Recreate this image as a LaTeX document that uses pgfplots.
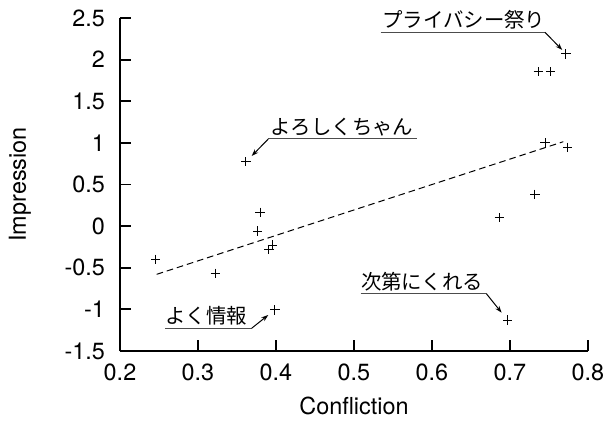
\documentclass[border=0pt]{standalone}
\usepackage{fontspec}
\setmainfont{TeX Gyre Heros}
\newfontfamily\jp{Noto Sans CJK JP}
\usepackage{pgfplots}
\pgfplotsset{compat=1.18}
\usetikzlibrary{arrows.meta}
\begin{document}
\begin{tikzpicture}
\begin{axis}[
  scale only axis, width=234bp, height=166.5bp,
  xmin=0.2, xmax=0.8, ymin=-1.5, ymax=2.5,
  clip=false,
  axis x line*=bottom, axis y line*=left,
  axis line style={-, line width=0.9bp},
  tick align=inside, major tick length=5.3bp,
  tick style={line width=0.9bp, black},
  xtick={0.2,0.3,0.4,0.5,0.6,0.7,0.8},
  xticklabels={0.2,0.3,0.4,0.5,0.6,0.7,0.8},
  ytick={-1.5,-1,-0.5,0,0.5,1,1.5,2,2.5},
  yticklabels={-1.5,-1,-0.5,0,0.5,1,1.5,2,2.5},
  ticklabel style={font=\fontsize{11.75}{14}\selectfont},
  yticklabel style={xshift=-4bp},
  xticklabel style={yshift=-3bp},
  xlabel={Confliction}, ylabel={Impression},
  label style={font=\fontsize{11.75}{14}\selectfont},
  xlabel style={at={(axis description cs:0.5,0)}, anchor=center, yshift=-27.5bp},
  ylabel style={at={(axis description cs:0,0.5)}, anchor=center, yshift=50bp},
]
\addplot[only marks, mark=+, mark size=2.3bp, mark options={line width=0.5bp, black}] coordinates {
(0.246,-0.399) (0.322,-0.567) (0.3615,0.774) (0.3795,0.166) (0.3765,-0.059)
(0.3953,-0.227) (0.391,-0.279) (0.3987,-1.007) (0.6863,0.101) (0.732,0.382)
(0.7449,1.002) (0.774,0.947) (0.697,-1.128) (0.7718,2.068) (0.7363,1.855) (0.752,1.855)
};
\addplot[black, line width=0.5bp, dash pattern=on 3.3bp off 2bp] coordinates {(0.247,-0.579) (0.7683,1.014)};

% annotations
\draw[line width=0.5bp, black!70] (axis cs:0.5342,2.328) -- (axis cs:0.7449,2.328);
\draw[-{Stealth[length=3.5bp,width=2.4bp]}, line width=0.5bp] (axis cs:0.7449,2.328) -- (axis cs:0.767,2.116);
\node[anchor=base west, inner sep=0, yshift=2.2bp, font=\jp\fontsize{10.25}{12}\selectfont] at (axis cs:0.5359,2.328) {プライバシー祭り};

\draw[line width=0.5bp, black!70] (axis cs:0.3901,1.0466) -- (axis cs:0.5812,1.0466);
\draw[-{Stealth[length=3.5bp,width=2.4bp]}, line width=0.5bp] (axis cs:0.3901,1.0466) -- (axis cs:0.3688,0.842);
\node[anchor=base west, inner sep=0, yshift=2.2bp, font=\jp\fontsize{10.25}{12}\selectfont] at (axis cs:0.3923,1.0466) {よろしくちゃん};

\draw[line width=0.5bp, black!70] (axis cs:0.5086,-0.815) -- (axis cs:0.670,-0.815);
\draw[-{Stealth[length=3.5bp,width=2.4bp]}, line width=0.5bp] (axis cs:0.670,-0.815) -- (axis cs:0.6893,-1.04);
\node[anchor=base west, inner sep=0, yshift=2.2bp, font=\jp\fontsize{10.25}{12}\selectfont] at (axis cs:0.5086,-0.815) {次第にくれる};

\draw[line width=0.5bp, black!70] (axis cs:0.2577,-1.227) -- (axis cs:0.3688,-1.227);
\draw[-{Stealth[length=3.5bp,width=2.4bp]}, line width=0.5bp] (axis cs:0.3688,-1.227) -- (axis cs:0.3901,-1.0676);
\node[anchor=base west, inner sep=0, yshift=2.2bp, font=\jp\fontsize{10.25}{12}\selectfont] at (axis cs:0.2577,-1.227) {よく情報};
\end{axis}
\pgfresetboundingbox
\path[use as bounding box] (current axis.south west) ++(-60bp,-38.5bp) rectangle ++(305.5bp,214bp);
\end{tikzpicture}
\end{document}
